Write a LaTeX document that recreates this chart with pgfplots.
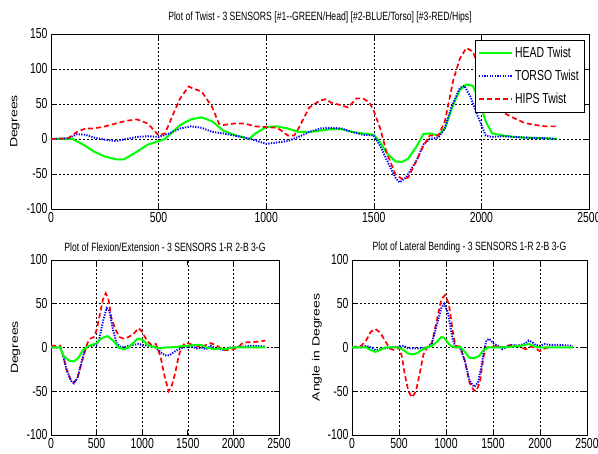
\documentclass[border=0pt]{standalone}
\usepackage{fontspec}
\setmainfont{Liberation Sans}[FakeStretch=0.72]
\newfontfamily\ylabfont{Liberation Sans}
\usepackage{graphicx}
\usepackage{pgfplots}
\pgfplotsset{compat=1.18}

\definecolor{mgreen}{RGB}{0,255,0}
\definecolor{mblue}{RGB}{0,0,255}
\definecolor{mred}{RGB}{255,0,0}

\pgfplotsset{
  matlab/.style={
    scale only axis,
    xmin=0, xmax=2500,
    xtick={0,500,...,2500},
    axis line style={black, line width=0.8pt},
    tick style={black, line width=0.6pt},
    major tick length=5pt,
    grid=major,
    major grid style={black, dash pattern=on 2pt off 2pt, line width=0.5pt},
    /pgf/number format/assume math mode=true,
    /pgf/number format/1000 sep={},
    tick label style={font=\fontsize{14.5}{14.5}\selectfont},
    title style={font=\fontsize{12}{12}\selectfont, at={(0.5,1)}, anchor=center},
    every axis plot/.append style={no markers, line width=1.6pt},
  },
  gr/.style={mgreen, solid, line width=2pt},
  bl/.style={mblue, line width=1.9pt, dash pattern=on 1.3pt off 1.3pt},
  rd/.style={mred, line width=1.7pt, dash pattern=on 5pt off 3pt},
}

\newcommand{\ylab}[1]{{\ylabfont\fontsize{14}{14}\selectfont\scalebox{1}[0.75]{#1}}}

\begin{document}
\begin{tikzpicture}
% ---- top: twist ----
\begin{axis}[matlab,
  at={(51pt,245pt)}, anchor=south west,
  width=538pt, height=175pt,
  ymin=-100, ymax=150, ytick={-100,-50,...,150},
  title={Plot of Twist - 3 SENSORS [\#1-{}-GREEN/Head] [\#2-BLUE/Torso] [\#3-RED/Hips]},
  title style={yshift=11pt},
  ylabel={\ylab{Degrees}},
  ylabel style={at={(axis description cs:-0.067,0.5)}, anchor=center},
  legend style={at={(rel axis cs:1,1)}, anchor=north east, xshift=-5pt, yshift=-6pt,
    font=\fontsize{14.5}{14.5}\selectfont, draw=black,
    inner xsep=3pt, inner ysep=5pt, row sep=7pt},
  legend cell align={left},
  legend image code/.code={\draw[#1] (0pt,0pt) -- (33pt,0pt);},
]
\addplot[gr] coordinates {(0,0) (80,0) (100,0) (150,-8) (200,-18) (250,-25) (300,-29) (340,-29) (400,-18) (450,-8) (500,-3) (530,0) (600,20) (650,28) (700,31) (750,25) (800,12) (850,6) (900,2) (920,0) (950,8) (1000,17) (1050,18) (1100,15) (1150,10) (1200,10) (1250,12) (1300,14) (1350,14) (1400,10) (1450,8) (1500,6) (1530,-5) (1560,-20) (1600,-32) (1630,-33) (1660,-28) (1700,-10) (1730,7) (1760,8) (1800,5) (1830,15) (1870,50) (1900,70) (1930,78) (1960,76) (1990,55) (2020,25) (2050,8) (2100,5) (2150,3) (2200,2) (2300,1) (2350,0)};
\addlegendentry{HEAD Twist}
\addplot[bl] coordinates {(0,0) (80,1) (120,7) (160,6) (200,2) (250,-1) (300,-3) (350,0) (400,3) (450,4) (500,3) (550,8) (600,15) (650,18) (700,16) (750,10) (800,8) (850,5) (900,2) (950,-2) (1000,-7) (1050,-5) (1100,-3) (1150,3) (1200,10) (1250,15) (1300,16) (1350,15) (1400,10) (1450,6) (1500,5) (1530,-10) (1560,-30) (1600,-55) (1620,-62) (1650,-55) (1700,-30) (1730,-8) (1760,0) (1800,2) (1830,15) (1860,45) (1900,73) (1920,76) (1950,60) (1980,35) (2020,5) (2050,3) (2100,4) (2150,3) (2200,2) (2300,1) (2350,0)};
\addlegendentry{TORSO Twist}
\addplot[rd] coordinates {(0,0) (80,1) (120,10) (160,15) (200,15) (250,18) (300,22) (350,26) (400,28) (450,22) (480,12) (500,5) (530,8) (560,30) (600,58) (640,75) (660,72) (700,68) (750,45) (780,22) (800,20) (850,22) (900,22) (950,18) (1000,17) (1050,16) (1080,10) (1100,5) (1130,5) (1150,15) (1200,45) (1250,55) (1280,57) (1300,52) (1350,48) (1380,45) (1420,58) (1450,58) (1480,52) (1500,40) (1530,15) (1560,-20) (1600,-50) (1630,-57) (1660,-55) (1700,-30) (1730,-10) (1760,5) (1800,5) (1830,25) (1870,85) (1900,115) (1930,130) (1960,125) (1980,110) (2020,60) (2050,45) (2100,38) (2150,30) (2200,23) (2250,20) (2300,18) (2350,18)};
\addlegendentry{HIPS Twist}
\end{axis}

% ---- bottom left: flexion/extension ----
\begin{axis}[matlab,
  at={(51pt,19pt)}, anchor=south west,
  width=228pt, height=175pt,
  ymin=-100, ymax=100, ytick={-100,-50,...,100},
  title={Plot of Flexion/Extension - 3 SENSORS 1-R 2-B 3-G},
  title style={yshift=7pt},
  ylabel={\ylab{Degrees}},
  ylabel style={at={(axis description cs:-0.155,0.5)}, anchor=center},
]
\addplot[rd] coordinates {(0,2) (100,2) (130,-8) (170,-25) (220,-38) (250,-40) (290,-35) (330,-20) (370,-5) (400,5) (430,10) (470,12) (500,20) (530,35) (570,55) (600,62) (630,55) (660,35) (700,22) (750,12) (800,10) (850,12) (900,15) (960,22) (1000,18) (1050,8) (1100,3) (1150,4) (1200,-10) (1250,-35) (1290,-50) (1320,-45) (1360,-30) (1400,-10) (1430,0) (1470,5) (1500,5) (1550,3) (1600,2) (1650,0) (1700,3) (1750,5) (1800,3) (1850,0) (1900,-3) (1950,-3) (2000,-2) (2050,0) (2100,5) (2150,6) (2200,6) (2300,7) (2350,8)};
\addplot[bl] coordinates {(0,0) (100,0) (130,-8) (170,-25) (220,-38) (250,-41) (290,-35) (330,-18) (370,-3) (400,1) (450,2) (500,3) (530,10) (570,30) (610,45) (640,42) (680,20) (720,5) (760,1) (800,0) (850,2) (900,3) (960,4) (1000,3) (1050,2) (1100,2) (1150,0) (1200,-5) (1250,-9) (1300,-9) (1350,-5) (1400,-2) (1450,0) (1500,1) (1550,1) (1600,-1) (1650,0) (1700,-2) (1750,2) (1800,-1) (1850,-2) (1900,-3) (1950,0) (2000,0) (2100,1) (2200,2) (2350,1)};
\addplot[gr] coordinates {(0,0) (100,0) (140,-10) (200,-15) (250,-16) (300,-12) (350,-3) (400,1) (450,3) (500,5) (560,11) (620,13) (680,8) (740,0) (800,-2) (850,0) (900,5) (950,10) (1000,9) (1050,4) (1100,1) (1150,0) (1200,-1) (1250,0) (1300,0) (1400,1) (1500,2) (1600,3) (1650,3) (1700,0) (1750,-1) (1800,-2) (1850,-1) (1900,-2) (1950,-1) (2000,0) (2100,0) (2350,0)};
\end{axis}

% ---- bottom right: lateral bending ----
\begin{axis}[matlab,
  at={(352pt,19pt)}, anchor=south west,
  width=235pt, height=175pt,
  ymin=-100, ymax=100, ytick={-100,-50,...,100},
  title={Plot of Lateral Bending - 3 SENSORS 1-R 2-B 3-G},
  title style={yshift=7pt},
  ylabel={\ylab{Angle in Degrees}},
  ylabel style={at={(axis description cs:-0.149,0.5)}, anchor=center},
]
\addplot[rd] coordinates {(0,0) (100,2) (150,8) (200,18) (250,21) (300,17) (350,8) (400,-1) (450,-3) (500,0) (530,-10) (560,-30) (600,-50) (640,-57) (680,-50) (720,-30) (760,-8) (800,0) (850,5) (900,30) (950,55) (990,60) (1030,50) (1070,20) (1100,2) (1150,1) (1200,-15) (1250,-40) (1290,-48) (1320,-50) (1360,-40) (1400,-10) (1430,0) (1500,1) (1550,2) (1600,0) (1650,2) (1700,3) (1750,2) (1800,0) (1850,-2) (1900,1) (1950,0) (1980,-3) (2000,-4) (2050,-1) (2100,0)};
\addplot[bl] coordinates {(0,0) (100,0) (150,2) (200,0) (250,-3) (300,-2) (400,0) (500,1) (550,2) (600,-1) (700,-1) (800,0) (850,5) (900,25) (950,45) (980,50) (1020,40) (1070,10) (1100,0) (1150,0) (1200,-15) (1250,-38) (1300,-45) (1340,-40) (1380,-20) (1400,-5) (1430,8) (1460,10) (1500,5) (1550,2) (1600,-2) (1650,1) (1700,3) (1750,2) (1800,3) (1850,5) (1880,8) (1920,6) (1950,3) (2000,2) (2050,4) (2100,3) (2200,3) (2350,2)};
\addplot[gr] coordinates {(0,0) (100,0) (150,0) (200,-3) (250,-5) (300,-3) (350,0) (400,0) (500,0) (550,-3) (600,-7) (650,-8) (700,-6) (750,-2) (800,0) (850,2) (900,6) (950,12) (980,11) (1000,8) (1050,2) (1100,0) (1150,1) (1200,-5) (1250,-12) (1300,-12) (1350,-10) (1400,-3) (1450,0) (1500,0) (1600,0) (1700,1) (1800,2) (1880,4) (1950,1) (2000,0) (2350,0)};
\end{axis}

\pgfresetboundingbox
\useasboundingbox (0,0) rectangle (598pt,454pt);
\end{tikzpicture}
\end{document}
